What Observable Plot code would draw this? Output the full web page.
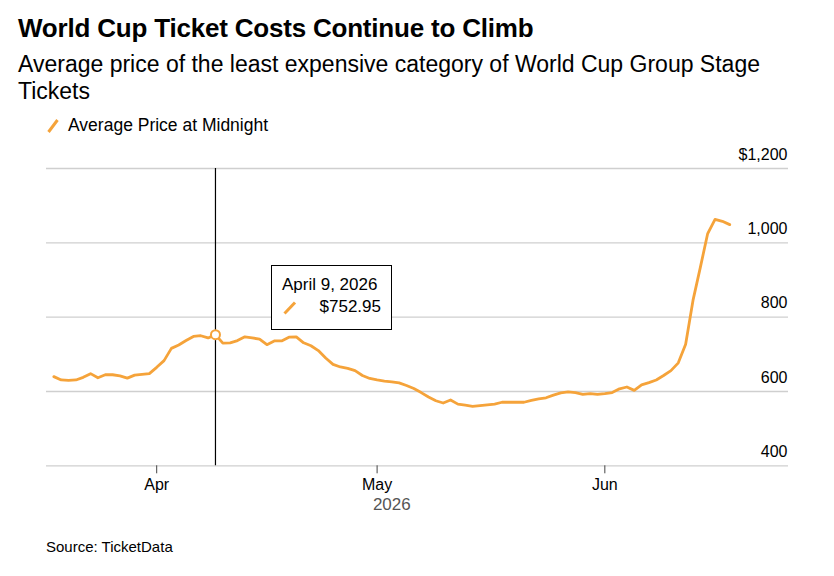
<!DOCTYPE html>
<html><head><meta charset="utf-8">
<script src="https://cdn.jsdelivr.net/npm/d3@7"></script>
<script src="https://cdn.jsdelivr.net/npm/@observablehq/plot@0.6"></script>
<style>
body{margin:0;background:#fff;font-family:"Liberation Sans",Arial,sans-serif;color:#000;}
#wrap{position:relative;width:834px;height:576px;overflow:hidden;background:#fff}
.abs{position:absolute;white-space:nowrap}
#title{left:18px;top:13px;font-size:26px;line-height:30px;font-weight:bold;letter-spacing:-0.2px}
#subtitle{left:18px;top:50.5px;font-size:23px;line-height:27px;white-space:normal;width:790px}
#legend{left:47px;top:115px;font-size:17.5px;line-height:20px}
#legend svg{vertical-align:-2px;margin-right:9px}
#source{left:46px;top:537.5px;font-size:15px;line-height:18px;color:#000}
#chart{position:absolute;left:0;top:140px}
#tip{position:absolute;background:#fff;border:1px solid #000;box-sizing:border-box;font-size:17px}
#tip .d{position:absolute;left:10px;top:9px;line-height:20px;white-space:nowrap}
#tip .v{position:absolute;right:10px;top:31px;line-height:20px;white-space:nowrap}
#tip svg{position:absolute;left:11px;top:35px}
</style></head><body><div id="wrap">
<div id="title" class="abs">World Cup Ticket Costs Continue to Climb</div>
<div id="subtitle" class="abs">Average price of the least expensive category of World Cup Group Stage Tickets</div>
<div id="legend" class="abs"><svg width="12" height="14"><line x1="1.5" y1="13" x2="10.5" y2="1" stroke="#F5A33A" stroke-width="3"/></svg>Average Price at Midnight</div>
<div id="chart"></div>
<div id="tip"><div class="d"></div><svg width="14" height="14"><line x1="1.5" y1="12.5" x2="12" y2="1.5" stroke="#F5A33A" stroke-width="3"/></svg><div class="v"></div></div>
<div id="source" class="abs">Source: TicketData</div>
</div>
<script>
// Daily average price at midnight, 2026-03-18 .. 2026-06-18
const firstDay = "2026-03-18";
const lastDay = "2026-06-18";
const prices = [
  640, 631, 630, 631, 638, 648, 637, 645, 645, 642,
  636, 644, 646, 648, 665, 683, 716, 725, 737, 748,
  750, 744, 752.95, 730, 731, 737, 747, 744, 741, 726,
  736, 736, 746, 747, 731, 723, 710, 690, 673, 666,
  662, 656, 643, 635, 631, 628, 626, 623, 616, 608,
  597, 585, 575, 569, 577, 566, 563, 560, 562, 564,
  566, 571, 571, 571, 571, 576, 580, 583, 590, 596,
  599, 597, 592, 594, 592, 594, 597, 607, 612, 603,
  618, 624, 631, 643, 656, 677, 727, 845, 934, 1025,
  1063, 1058, 1049
];
const yTicks = [400, 600, 800, 1000, 1200];
const yTickLabels = ["400", "600", "800", "1,000", "$1,200"];
const monthTicks = ["2026-04-01", "2026-05-01", "2026-06-01"];
const monthLabels = ["Apr", "May", "Jun"];
const yearLabel = ["2026"];
const yearLabelAt = "2026-05-03";
const highlightDay = "2026-04-09";
const highlightLabel = "April 9, 2026";

const days = d3.utcDays(new Date(firstDay), d3.utcDay.offset(new Date(lastDay), 1));
const data = days.map((d, i) => ({date: d, price: prices[i]}));
const hDate = new Date(highlightDay);
const hPoint = data.find(d => +d.date === +hDate);
const orange = "#F5A33A";

const plot = Plot.plot({
  width: 834, height: 400,
  marginTop: 28, marginBottom: 74.7, marginLeft: 46, marginRight: 46,
  style: {fontFamily: "'Liberation Sans', Arial, sans-serif", background: "transparent", color: "#000"},
  x: {type: "utc", domain: [new Date("2026-03-17T00:00Z"), new Date("2026-06-26T00:00Z")]},
  y: {domain: [400, 1200]},
  marks: [
    Plot.gridY(yTicks, {stroke: "#cfcfcf", strokeOpacity: 1, strokeWidth: 1.3}),
    Plot.axisY(yTicks, {anchor: "right", tickSize: 0, tickPadding: 0, textAnchor: "end", dx: -1, dy: -14,
      tickFormat: (d) => yTickLabels[yTicks.indexOf(d)], fontSize: 16, label: null}),
    Plot.axisX(monthTicks.map(d => new Date(d)), {tickSize: 8, tickPadding: 5, stroke: "#444",
      tickFormat: (d, i) => monthLabels[i], fontSize: 16, label: null}),
    Plot.ruleX([hDate], {y1: 400, y2: 1200, stroke: "#000", strokeWidth: 1.2}),
    Plot.line(data, {x: "date", y: "price", stroke: orange, strokeWidth: 2.8}),
    Plot.dot([hPoint], {x: "date", y: "price", r: 4.5, fill: "#fff", stroke: orange, strokeWidth: 2}),
    Plot.text(yearLabel, {x: () => new Date(yearLabelAt), frameAnchor: "bottom", dy: 38.7, fill: "#555",
      fontSize: 17, lineAnchor: "middle", letterSpacing: "1px"})
  ]
});
document.getElementById("chart").appendChild(plot);

// tooltip positioned from the plot's scales
const xs = plot.scale("x"), ys = plot.scale("y");
const tip = document.getElementById("tip");
const px = xs.apply(hDate), py = ys.apply(hPoint.price) + 140;
tip.style.left = (px + 56) + "px";
tip.style.top = (py - 69) + "px";
tip.style.width = "121px";
tip.style.height = "65px";
tip.querySelector(".d").textContent = highlightLabel;
tip.querySelector(".v").textContent = "$" + d3.format(",.2f")(hPoint.price);
</script>
</body></html>
